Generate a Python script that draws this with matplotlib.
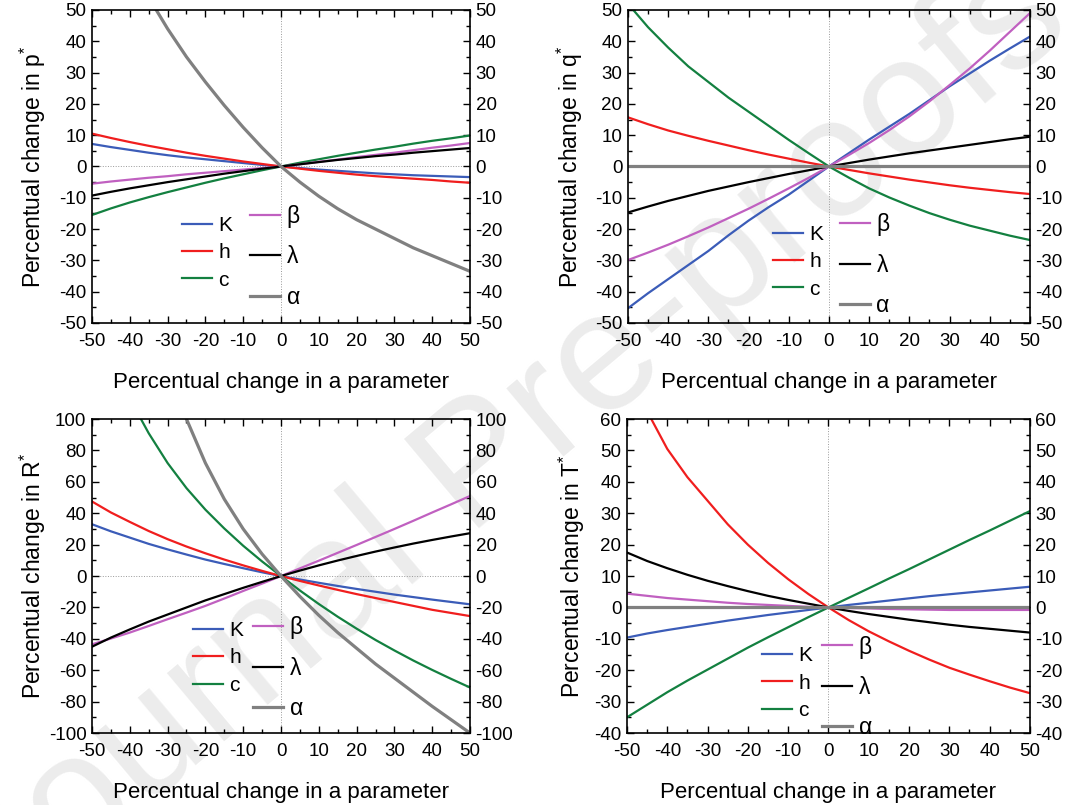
import matplotlib
matplotlib.use("Agg")
import matplotlib.pyplot as plt
from matplotlib.ticker import MultipleLocator

plt.rcParams['font.family'] = ['Liberation Sans', 'DejaVu Sans']
plt.rcParams['mathtext.fontset'] = 'custom'
plt.rcParams['mathtext.rm'] = 'Liberation Sans'
plt.rcParams['axes.unicode_minus'] = False

x = [-50, -45, -40, -35, -30, -25, -20, -15, -10, -5, 0,
     5, 10, 15, 20, 25, 30, 35, 40, 45, 50]
labels = ['K', 'h', 'c', 'β', 'λ', 'α']
colors = ['#3b5cb8', '#f01e1e', '#138040', '#c060c0', '#000000', '#808080']

# percentual change in p*
p_K = [7.2, 6.2, 5.3, 4.4, 3.6, 2.9, 2.3, 1.7, 1.1, 0.5, 0,
       -0.5, -1.0, -1.4, -1.8, -2.2, -2.5, -2.8, -3.0, -3.2, -3.4]
p_h = [10.5, 9.1, 7.8, 6.6, 5.5, 4.4, 3.4, 2.5, 1.6, 0.8, 0,
       -0.7, -1.4, -2.0, -2.6, -3.1, -3.5, -3.9, -4.3, -4.8, -5.2]
p_c = [-15.5, -13.4, -11.5, -9.8, -8.2, -6.7, -5.2, -3.8, -2.5, -1.2, 0,
       1.2, 2.3, 3.4, 4.4, 5.4, 6.3, 7.3, 8.2, 9.0, 9.9]
p_beta = [-5.5, -4.8, -4.2, -3.6, -3.1, -2.5, -2.0, -1.5, -1.0, -0.5, 0,
          0.7, 1.5, 2.2, 3.0, 3.7, 4.4, 5.2, 6.0, 6.7, 7.5]
p_lam = [-9.3, -8.1, -7.0, -6.0, -5.0, -4.1, -3.2, -2.3, -1.5, -0.7, 0,
         0.7, 1.4, 2.1, 2.7, 3.3, 3.8, 4.4, 4.9, 5.4, 5.9]
p_alpha = [100, 82, 67, 54, 44, 35, 27, 19.5, 12.5, 6, 0,
           -5, -9.5, -13.5, -17, -20, -23, -26, -28.5, -31, -33.5]

# percentual change in q*
q_K = [-45.3, -40.5, -36, -31.5, -27, -22, -17.3, -13, -9, -4.5, 0,
       4.3, 8.6, 12.7, 16.8, 21.2, 25.6, 29.7, 33.8, 37.7, 41.5]
q_h = [15.7, 13.5, 11.5, 9.8, 8.2, 6.7, 5.2, 3.8, 2.5, 1.2, 0,
       -1.1, -2.2, -3.2, -4.2, -5.1, -6.0, -6.8, -7.5, -8.2, -8.8]
q_c = [52, 44.5, 38, 32, 27, 22, 17.5, 13, 8.5, 4.2, 0,
       -3.6, -7.0, -9.9, -12.5, -14.9, -17.0, -18.9, -20.5, -22.1, -23.5]
q_beta = [-29.9, -27.5, -25, -22.3, -19.5, -16.5, -13.5, -10.3, -7, -3.6, 0,
          3.7, 7.5, 11.6, 16, 20.8, 26, 31.3, 37, 43, 49]
q_lam = [-14.7, -12.8, -11, -9.4, -7.8, -6.4, -5.0, -3.7, -2.4, -1.2, 0,
         1.1, 2.2, 3.2, 4.2, 5.1, 6.0, 6.9, 7.8, 8.7, 9.5]
q_alpha = [0] * 21

# percentual change in R*
r_K = [33, 28.5, 24.5, 20.5, 17, 13.7, 10.5, 7.7, 5, 2.4, 0,
       -2.2, -4.3, -6.3, -8.2, -10, -11.8, -13.4, -15, -16.5, -18]
r_h = [47.5, 40.5, 34.5, 28.7, 23.5, 18.8, 14.5, 10.5, 6.8, 3.3, 0,
       -3.1, -6, -8.8, -11.5, -14, -16.5, -19, -21.5, -23.5, -25.5]
r_c = [169, 139, 113, 91, 72, 56, 42.3, 30.3, 19.3, 9.3, 0,
       -9.2, -17.8, -25.9, -33.5, -40.7, -47.4, -53.8, -59.8, -65.5, -71]
r_beta = [-43.5, -39.8, -36, -31.8, -27.5, -23.3, -19, -14.3, -9.5, -4.8, 0,
          4.9, 9.8, 14.8, 19.8, 24.9, 30, 35.2, 40.5, 45.7, 51]
r_lam = [-45, -39.2, -34, -29, -24.5, -20, -15.5, -11.5, -7.5, -3.7, 0,
         3.5, 6.8, 9.9, 12.8, 15.6, 18.2, 20.7, 23, 25.2, 27.3]
r_alpha = [400, 300, 230, 175, 135, 100, 72, 49, 30, 14, 0,
           -13, -25, -36, -46, -56, -65, -74, -83, -91.5, -100]

# percentual change in T*
t_K = [-9.6, -8.3, -7.2, -6.2, -5.2, -4.2, -3.3, -2.4, -1.6, -0.8, 0,
       0.8, 1.5, 2.2, 2.9, 3.6, 4.2, 4.8, 5.4, 6.0, 6.6]
t_h = [76, 62.5, 50.5, 41.5, 34, 26.5, 20, 14.2, 9, 4.3, 0,
       -4, -7.6, -10.8, -13.8, -16.6, -19.2, -21.4, -23.5, -25.5, -27.3]
t_c = [-35, -31, -27, -23.3, -19.8, -16.3, -12.8, -9.5, -6.3, -3.1, 0,
       3.05, 6.1, 9.2, 12.2, 15.3, 18.4, 21.5, 24.5, 27.6, 30.7]
t_beta = [4.4, 3.7, 3.0, 2.5, 2.0, 1.5, 1.1, 0.8, 0.5, 0.2, 0,
          -0.2, -0.3, -0.5, -0.6, -0.7, -0.8, -0.8, -0.8, -0.8, -0.8]
t_lam = [17.5, 14.8, 12.5, 10.4, 8.5, 6.8, 5.2, 3.7, 2.4, 1.2, 0,
         -1.1, -2.1, -3.0, -3.9, -4.7, -5.5, -6.2, -6.8, -7.4, -8]
t_alpha = [0] * 21

panels = [
    ([p_K, p_h, p_c, p_beta, p_lam, p_alpha], r'Percentual change in p$^{*}$', (-50, 50), 10, 5),
    ([q_K, q_h, q_c, q_beta, q_lam, q_alpha], r'Percentual change in q$^{*}$', (-50, 50), 10, 5),
    ([r_K, r_h, r_c, r_beta, r_lam, r_alpha], r'Percentual change in R$^{*}$', (-100, 100), 20, 10),
    ([t_K, t_h, t_c, t_beta, t_lam, t_alpha], r'Percentual change in T$^{*}$', (-40, 60), 10, 5),
]
positions = [
    [0.0844, 0.5988, 0.3468, 0.3888],
    [0.5761, 0.5988, 0.3688, 0.3888],
    [0.0844, 0.0894, 0.3468, 0.3900],
    [0.5752, 0.0894, 0.3697, 0.3900],
]
ylab_x = [-0.156, -0.144, -0.156, -0.136]
# legend anchors (axes fraction, left edge / middle row) for the two legend columns
leg_pos = [((0.238, 0.224), (0.418, 0.211)),
           ((0.360, 0.195), (0.527, 0.185)),
           ((0.267, 0.239), (0.426, 0.207)),
           ((0.335, 0.159), (0.484, 0.146))]

fig = plt.figure(figsize=(10.9, 8.05), dpi=100)
fig.text(0.47, 0.45, 'Journal Pre-proofs', fontsize=122, color='#ececec',
         rotation=40, ha='center', va='center', zorder=-1)

for (series, ylab, ylim, major, minor), pos, lp, lx in zip(panels, positions, leg_pos, ylab_x):
    ax = fig.add_axes(pos)
    ax.set_facecolor('none')
    ax.axvline(0, color='#999999', lw=0.7, ls=':', zorder=1)
    ax.axhline(0, color='#999999', lw=0.7, ls=':', zorder=1)
    lines = []
    for vals, lab, col in zip(series, labels, colors):
        lw = 2.3 if lab == 'α' else 1.6
        ln, = ax.plot(x, vals, color=col, lw=lw, label=lab, zorder=2)
        lines.append(ln)
    ax.set_xlim(-50, 50)
    ax.set_ylim(*ylim)
    ax.xaxis.set_major_locator(MultipleLocator(10))
    ax.xaxis.set_minor_locator(MultipleLocator(5))
    ax.yaxis.set_major_locator(MultipleLocator(major))
    ax.yaxis.set_minor_locator(MultipleLocator(minor))
    ax.tick_params(which='both', direction='in', top=True, right=True,
                   labelright=True, labelsize=13.5)
    ax.tick_params(axis='x', pad=7)
    ax.tick_params(axis='y', pad=4)
    ax.tick_params(which='major', length=5, width=1)
    ax.tick_params(which='minor', length=3, width=1)
    for s in ax.spines.values():
        s.set_linewidth(1.2)
    ax.set_xlabel('Percentual change in a parameter', fontsize=16, labelpad=16)
    ax.set_ylabel(ylab, fontsize=16.5, va='center')
    ax.yaxis.set_label_coords(lx, 0.5)
    leg1 = ax.legend(lines[:3], labels[:3], loc='center left', bbox_to_anchor=lp[0],
                     frameon=False, fontsize=15, handlelength=1.45, handletextpad=0.3,
                     labelspacing=0.4, borderpad=0, borderaxespad=0)
    ax.add_artist(leg1)
    ax.legend(lines[3:], labels[3:], loc='center left', bbox_to_anchor=lp[1],
              frameon=False, fontsize=16.5, handlelength=1.3, handletextpad=0.3,
              labelspacing=0.75, borderpad=0, borderaxespad=0)

fig.savefig('out.png', dpi=100)
